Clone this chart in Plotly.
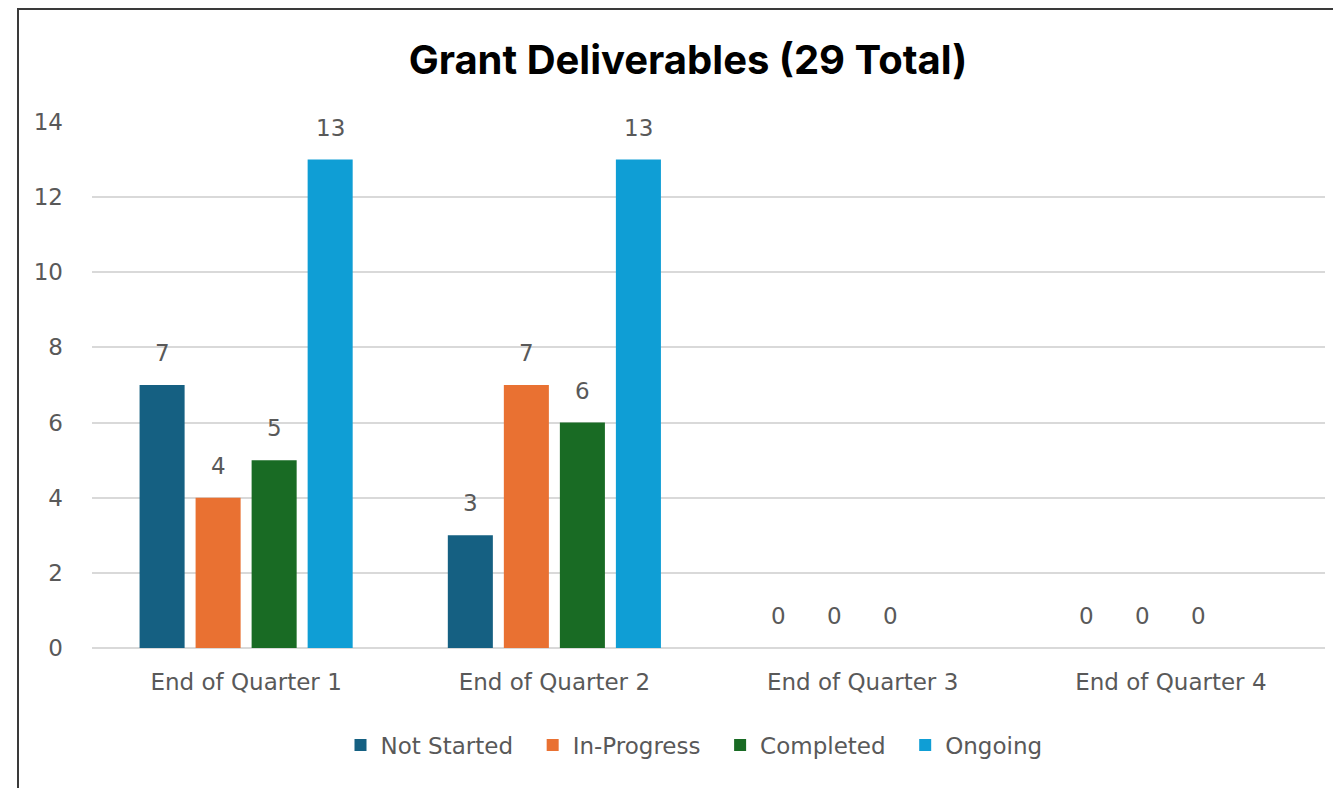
import plotly.graph_objects as go

categories = ["End of Quarter 1", "End of Quarter 2", "End of Quarter 3", "End of Quarter 4"]
series_names = ["Not Started", "In-Progress", "Completed", "Ongoing"]
not_started = [7, 3, 0, 0]
in_progress = [4, 7, 0, 0]
completed = [5, 6, 0, 0]
ongoing = [13, 13, None, None]
y_ticks = [0, 2, 4, 6, 8, 10, 12, 14]

colors = ["#156082", "#E97132", "#196B24", "#0F9ED5"]
values = [not_started, in_progress, completed, ongoing]

FONT = "DejaVu Sans"
GRAY = "#595959"

# page has an 8px body margin; figure is placed at (8, 8)
W, H = 1333, 780
L, R, T, B = 84, 16, 114, 140
pw, ph = W - L - R, H - T - B
BARGAP = 0.273
BARGROUPGAP = 0.196


def px_x(p):
    return (p - L) / pw


def px_y(p):
    return (H - B - p) / ph


fig = go.Figure()
n = len(series_names)
for i, (name, vals, col) in enumerate(zip(series_names, values, colors)):
    legend_name = name + ("\u00a0\u00a0" if i < n - 1 else "")
    fig.add_trace(go.Bar(
        name=legend_name, x=categories, y=vals,
        marker=dict(color=col, line=dict(width=0)),
        hovertemplate=name + ": %{y}<extra>%{x}</extra>",
    ))

# data labels above each bar (annotations anchored at the data values)
slot = pw / len(categories) * (1 - BARGAP) / n
annotations = []
for i, vals in enumerate(values):
    for cat, v in zip(categories, vals):
        if v is None:
            continue
        annotations.append(dict(
            x=cat, y=v, xref="x", yref="y", text=str(v), showarrow=False,
            xshift=(i - (n - 1) / 2) * slot, yshift=32,
            xanchor="center", yanchor="middle",
            font=dict(family=FONT, size=23, color=GRAY),
        ))

fig.update_layout(
    width=W, height=H,
    margin=dict(l=L, r=R, t=T, b=B, autoexpand=False),
    paper_bgcolor="white", plot_bgcolor="white",
    barmode="group", bargap=BARGAP, bargroupgap=BARGROUPGAP,
    title=dict(text="<b>Grant Deliverables (29 Total)</b>", xref="container", x=680 / W, xanchor="center",
               yref="container", y=1 - 52 / H, yanchor="middle",
               font=dict(family="Inter", size=40, color="#000000")),
    font=dict(family=FONT, color=GRAY),
    xaxis=dict(showgrid=False, showline=False, ticks="", ticklabelstandoff=18,
               tickfont=dict(family=FONT, size=23, color=GRAY)),
    yaxis=dict(range=[0, 14], tickvals=y_ticks, showgrid=True, gridcolor="#D9D9D9", gridwidth=1.5,
               zeroline=True, zerolinecolor="#D9D9D9", zerolinewidth=1.5,
               showline=False, ticks="", ticklabelstandoff=28,
               tickfont=dict(family=FONT, size=23, color=GRAY)),
    legend=dict(orientation="h", x=px_x(686), xanchor="center", y=px_y(737), yanchor="middle",
                font=dict(family=FONT, size=23, color=GRAY), itemwidth=30,
                bgcolor="rgba(0,0,0,0)"),
    showlegend=True,
    annotations=annotations,
    shapes=[dict(type="rect", xref="paper", yref="paper",
                 x0=px_x(10), x1=px_x(1345), y0=px_y(800), y1=px_y(1),
                 line=dict(color="#3A3A3A", width=2), fillcolor="rgba(0,0,0,0)", layer="below")],
)

fig.write_html("out.html")
